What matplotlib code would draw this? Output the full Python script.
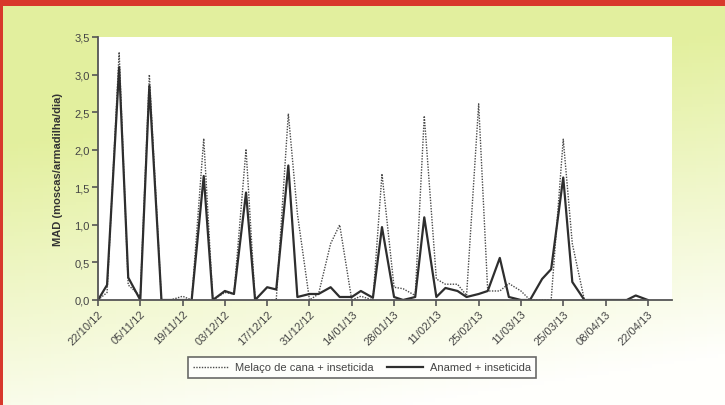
import numpy as np
import pandas as pd
import matplotlib
matplotlib.use("Agg")
import matplotlib.pyplot as plt
import matplotlib.dates as mdates
from matplotlib.patches import Rectangle

# trap collections, twice a week (Mon/Thu), days after the first one
start = pd.Timestamp("2012-10-22")
sample_day = [0, 3, 7, 10, 14, 17, 21, 24, 28, 31, 35, 38, 42, 45, 49, 52, 56, 59,
              63, 66, 70, 73, 77, 80, 84, 87, 91, 94, 98, 101, 105, 108, 112, 115,
              119, 122, 126, 129, 133, 136, 140, 143, 147, 150, 154, 157, 161, 164,
              168, 171, 175, 178, 182]

melaco = [0.0, 0.1, 3.3, 0.2, 0.05, 3.0, 0.0, 0.0, 0.05, 0.0, 2.15, 0.0, 0.1, 0.08,
          2.01, 0.0, 0.0, 0.0, 2.48, 1.15, 0.0, 0.08, 0.75, 1.0, 0.0, 0.05, 0.0,
          1.68, 0.17, 0.15, 0.06, 2.45, 0.28, 0.21, 0.21, 0.06, 2.61, 0.12, 0.12,
          0.22, 0.12, 0.0, 0.0, 0.0, 2.14, 0.75, 0.0, 0.0, 0.0, 0.0, 0.0, 0.0, 0.0]

anamed = [0.0, 0.2, 3.1, 0.3, 0.0, 2.85, 0.0, 0.0, 0.0, 0.0, 1.65, 0.0, 0.12, 0.08,
          1.43, 0.0, 0.17, 0.14, 1.79, 0.04, 0.08, 0.08, 0.17, 0.04, 0.04, 0.12, 0.03,
          0.97, 0.04, 0.0, 0.04, 1.1, 0.04, 0.16, 0.12, 0.04, 0.08, 0.12, 0.56,
          0.04, 0.0, 0.0, 0.28, 0.41, 1.63, 0.24, 0.0, 0.0, 0.0, 0.0, 0.0, 0.06, 0.0]

dates = start + pd.to_timedelta(sample_day, unit="D")
tick_dates = pd.date_range(start, periods=14, freq="14D")
y_ticks = [0, 0.5, 1.0, 1.5, 2.0, 2.5, 3.0, 3.5]

fig = plt.figure(figsize=(7.25, 4.06), dpi=100)
plt.rcParams["font.family"] = ["Liberation Sans", "DejaVu Sans"]

# page background: yellow-green fading to white towards the bottom right
bg = fig.add_axes([0, 0, 1, 1], zorder=-10)
u, v = np.meshgrid(np.linspace(0, 1, 200), np.linspace(0, 1, 120))
w = np.clip(1.45 - 1.25 * v - 0.35 * u, 0, 1)[..., None]
base = np.array([0.89, 0.94, 0.62])
img = w * base + (1 - w) * np.array([1.0, 1.0, 0.99])
bg.imshow(img, extent=[0, 1, 0, 1], aspect="auto", origin="upper")
bg.add_patch(Rectangle((0, 1 - 7 / 406), 1, 7 / 406, color="#d8382c", lw=0))
bg.add_patch(Rectangle((0, 0), 3 / 725, 1, color="#d8382c", lw=0))
bg.set_xlim(0, 1)
bg.set_ylim(0, 1)
bg.axis("off")

ax = fig.add_axes([98 / 725, 1 - 301 / 406, 574 / 725, 263 / 406])
ax.set_facecolor("white")
ax.plot(dates, melaco, color="#4a4a4a", lw=1.0, ls=(0, (1, 1)),
        label="Melaço de cana + inseticida")
ax.plot(dates, anamed, color="#2e2e2e", lw=1.6,
        label="Anamed + inseticida")

ax.set_ylim(0, 3.5)
ax.set_xlim(start, start + pd.Timedelta(days=190))
ax.set_yticks(y_ticks)
ax.set_yticklabels([f"{t:.1f}".replace(".", ",") for t in y_ticks])
ax.set_xticks(tick_dates)
ax.xaxis.set_major_formatter(mdates.DateFormatter("%d/%m/%y"))
plt.setp(ax.get_xticklabels(), rotation=45, ha="right", rotation_mode="anchor")

for side in ["top", "right"]:
    ax.spines[side].set_visible(False)
for side in ["left", "bottom"]:
    ax.spines[side].set_color("#555555")
    ax.spines[side].set_linewidth(1.3)
ax.tick_params(axis="both", direction="out", length=4, width=1.2, color="#555555",
               labelsize=8, labelcolor="#444444", pad=2)

ax.set_ylabel("MAD (moscas/armadilha/dia)", fontsize=8, fontweight="bold",
              color="#333333", labelpad=8)

leg = fig.legend(loc="center", bbox_to_anchor=(362 / 725, 1 - 368.5 / 406), ncol=2,
                 fontsize=8, frameon=True, fancybox=False, handlelength=3.2,
                 columnspacing=1.2, borderpad=0.5, handletextpad=0.6)
leg.get_frame().set_edgecolor("#444444")
leg.get_frame().set_linewidth(1.2)
for t in leg.get_texts():
    t.set_color("#444444")

fig.savefig("out.png", dpi=100)
